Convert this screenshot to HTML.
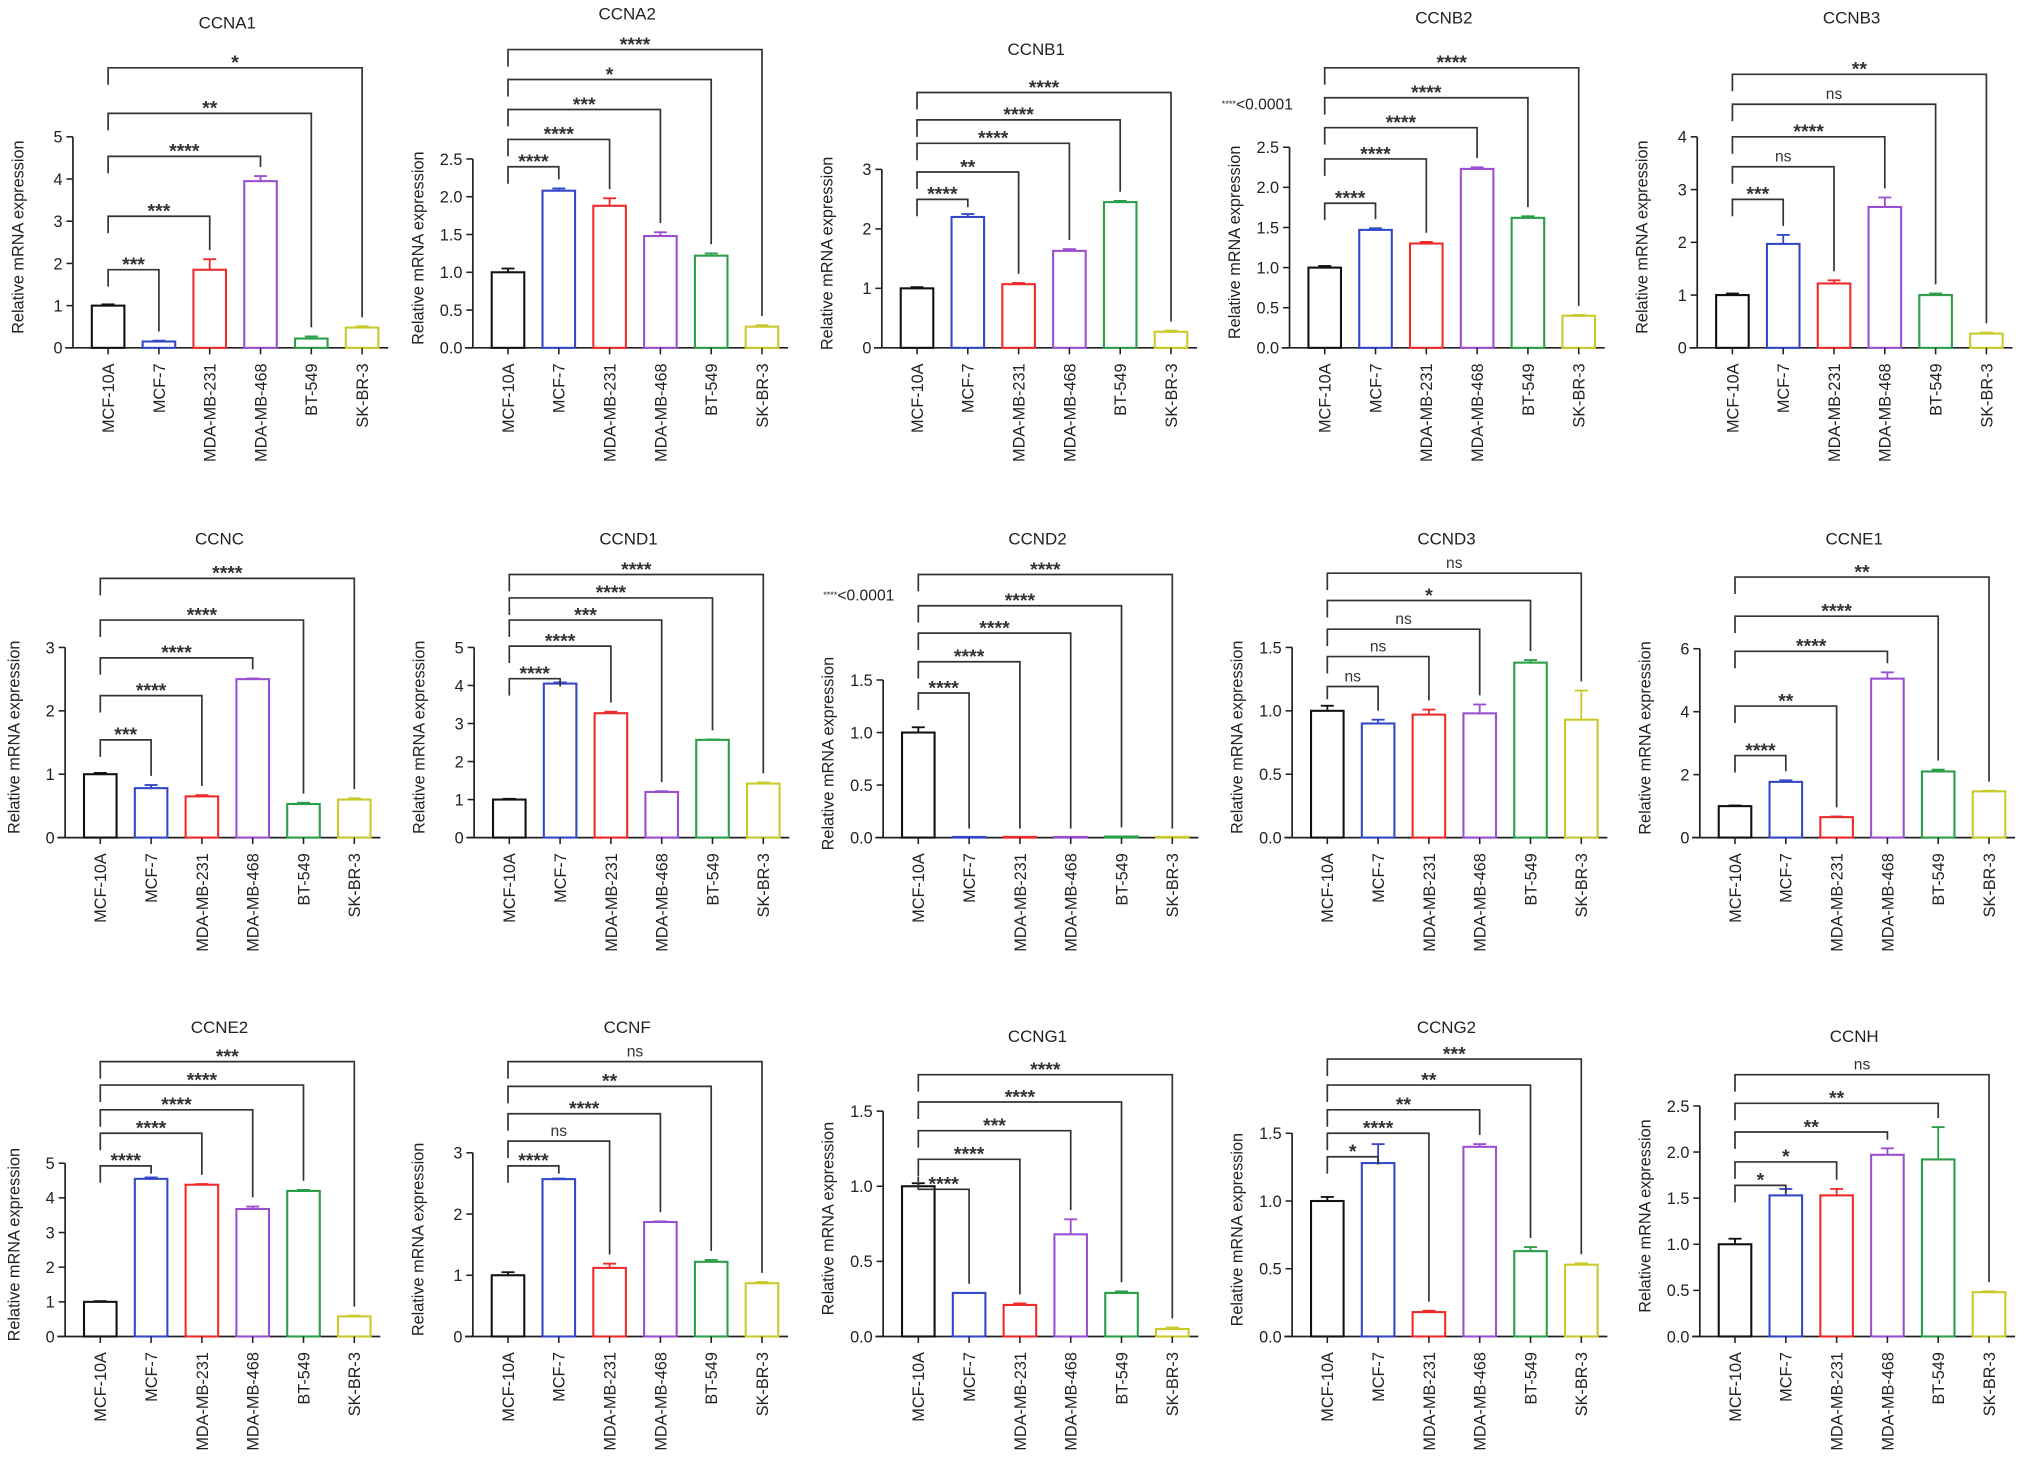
<!DOCTYPE html>
<html><head><meta charset="utf-8"><style>
html,body{margin:0;padding:0;background:#fff;}
svg{display:block;font-family:"Liberation Sans",Arial,sans-serif;}
</style></head><body>
<svg id="fig" width="2032" height="1472" viewBox="0 0 1560 1130" xmlns="http://www.w3.org/2000/svg"></svg>
<script>
const categories = ["MCF-10A","MCF-7","MDA-MB-231","MDA-MB-468","BT-549","SK-BR-3"];
const colors = ["#111111","#3347c8","#f02a2a","#9a4fd0","#2a9e48","#c9c92a"];
const titles = ["CCNA1","CCNA2","CCNB1","CCNB2","CCNB3","CCNC","CCND1","CCND2","CCND3","CCNE1","CCNE2","CCNF","CCNG1","CCNG2","CCNH"];
const values = [
 [1,0.15,1.85,3.95,0.22,0.48],
 [1,2.08,1.88,1.48,1.22,0.28],
 [1,2.2,1.07,1.63,2.45,0.27],
 [1,1.47,1.3,2.23,1.62,0.4],
 [1,1.97,1.22,2.67,1.0,0.27],
 [1,0.78,0.65,2.5,0.53,0.6],
 [1,4.05,3.27,1.2,2.57,1.42],
 [1,0,0,0,0.01,0],
 [1,0.9,0.97,0.98,1.38,0.93],
 [1,1.77,0.65,5.05,2.1,1.47],
 [1,4.55,4.38,3.68,4.2,0.58],
 [1,2.57,1.12,1.87,1.22,0.87],
 [1,0.29,0.21,0.68,0.29,0.05],
 [1,1.28,0.18,1.4,0.63,0.53],
 [1,1.53,1.53,1.97,1.92,0.48]
];
const errors = [
 [.03,.02,.25,.12,.05,.03],
 [.05,.03,.1,.05,.03,.02],
 [.02,.05,.02,.03,.02,.02],
 [.02,.02,.02,.02,.02,.01],
 [.03,.17,.06,.18,.03,.02],
 [.02,.05,.02,.01,.02,.02],
 [.02,.03,.04,.02,.01,.03],
 [.05,0,0,0,0,0],
 [.04,.03,.04,.07,.02,.23],
 [.02,.05,.02,.2,.06,.02],
 [.02,.04,.02,.07,.03,.02],
 [.05,.01,.07,.01,.03,.02],
 [.02,0,.01,.1,.01,.01],
 [.03,.14,.01,.02,.03,.01],
 [.06,.07,.07,.07,.35,.01]
];
const sigLabels = [
 ["***","***","****","**","*"],
 ["****","****","***","*","****"],
 ["****","**","****","****","****"],
 ["****","****","****","****","****"],
 ["***","ns","****","ns","**"],
 ["***","****","****","****","****"],
 ["****","****","***","****","****"],
 ["****","****","****","****","****"],
 ["ns","ns","ns","*","ns"],
 ["****","**","****","****","**"],
 ["****","****","****","****","***"],
 ["****","ns","****","**","ns"],
 ["****","****","***","****","****"],
 ["*","****","**","**","***"],
 ["*","*","**","**","ns"]
];
const yMax = [5,2.5,3,2.5,4, 3,5,1.5,1.5,6, 5,3,1.5,1.5,2.5];
const yStep = [1,0.5,1,0.5,1, 1,1,0.5,0.5,2, 1,1,0.5,0.5,0.5];
const yDecimals = [0,1,0,1,0, 0,0,1,1,0, 0,0,1,1,1];

// layout (display units)
const layout = [
 {ax:56,base:267,top:105,ty:22,br:[207,166,120,87,52]},
 {ax:363,base:267,top:122,ty:15,br:[128,107,84,61,38]},
 {ax:677,base:267,top:130,ty:42,br:[153,132,110,92,71]},
 {ax:990,base:267,top:113,ty:18,br:[156,122,98,75,52],note:[938,84]},
 {ax:1303,base:267,top:105,ty:18,br:[153,128,105,80,57]},
 {ax:50,base:643,top:497,ty:418,br:[568,534,505,476,444]},
 {ax:364,base:643,top:497,ty:418,br:[521,496,476,459,441]},
 {ax:678,base:643,top:522,ty:418,br:[532,508,486,465,441],note:[632,461]},
 {ax:992,base:643,top:497,ty:418,br:[527,504,483,461,440]},
 {ax:1305,base:643,top:498,ty:418,br:[580,542,500,473,443]},
 {ax:50,base:1026,top:893,ty:793,br:[895,870,852,833,815]},
 {ax:363,base:1026,top:885,ty:793,br:[895,876,855,834,815]},
 {ax:678,base:1026,top:853,ty:800,br:[913,890,868,846,825]},
 {ax:992,base:1026,top:870,ty:793,br:[888,870,852,833,813]},
 {ax:1305,base:1026,top:849,ty:800,br:[910,892,869,847,825]}
];
const NS="http://www.w3.org/2000/svg";
const svg=document.getElementById('fig');
function mk(tag,attrs,parent){const e=document.createElementNS(NS,tag);for(const k in attrs)e.setAttribute(k,attrs[k]);(parent||svg).appendChild(e);return e;}

titles.forEach((t,p)=>{
 const L=layout[p];
 const g=mk('g',{});
 
 
 const yScale=v=>L.base-(v/yMax[p])*(L.base-L.top);
 const xScale=i=>L.ax+27+i*39;
 const bw=25;
 const ya=mk('line',{x1:L.ax,y1:L.base,x2:L.ax,y2:L.top,stroke:'#222','stroke-width':1.3},g);
 
 
 const xa=mk('line',{x1:L.ax-6,y1:L.base,x2:xScale(5)+20,y2:L.base,stroke:'#222','stroke-width':1.3},g);
 
 
 for(let v=0;v<=yMax[p]+1e-9;v+=yStep[p]){
  const y=yScale(v);
  mk('line',{x1:L.ax-5,y1:y,x2:L.ax,y2:y,stroke:'#222','stroke-width':1.2},g);
  const tl=mk('text',{x:L.ax-8,y:y+4.5,'font-size':12.5,'text-anchor':'end',fill:'#222'},g);
  tl.textContent=v.toFixed(yDecimals[p]);
  
  
 }
 const ytx=Math.max(L.ax-38,15);
 const yt=mk('text',{x:0,y:0,'font-size':12.5,'text-anchor':'middle',fill:'#222',transform:`translate(${ytx},${(L.base+L.top)/2-4}) rotate(-90)`},g);
 yt.textContent='Relative mRNA expression';
 
 
 const tt=mk('text',{x:(xScale(0)+xScale(5))/2-6,y:L.ty,'font-size':13,'text-anchor':'middle',fill:'#222'},g);
 tt.textContent=t;
 
 
 const tops=[];
 categories.forEach((c,i)=>{
  const x=xScale(i), v=values[p][i], e=errors[p][i];
  const yv=yScale(v), ye=yScale(v+e);
  tops.push(ye);
  const bar=mk('rect',{x:x-bw/2,y:Math.min(yv,L.base-0.5),width:bw,height:Math.max(L.base-yv,0.5),fill:'none',stroke:colors[i],'stroke-width':1.6},g);
  
  
  if(e>0){
   mk('line',{x1:x,y1:yv,x2:x,y2:ye,stroke:colors[i],'stroke-width':1.4},g);
   mk('line',{x1:x-5,y1:ye,x2:x+5,y2:ye,stroke:colors[i],'stroke-width':1.4},g);
  }
  mk('line',{x1:x,y1:L.base,x2:x,y2:L.base+5,stroke:'#222','stroke-width':1.2},g);
  const xl=mk('text',{x:0,y:0,'font-size':12.5,'text-anchor':'end',fill:'#222',transform:`translate(${x+4.5},${L.base+12}) rotate(-90)`},g);
  xl.textContent=c;
  
  
 });
 sigLabels[p].forEach((s,k)=>{
  const i=k+1, x0=xScale(0), x1=xScale(i), yb=L.br[k];
  const leftEnd=Math.min(yb+13, tops[0]-5);
  const rightEnd=Math.max(yb+6, tops[i]-7);
  const br=mk('path',{d:`M${x0},${leftEnd} L${x0},${yb} L${x1},${yb} L${x1},${rightEnd}`,fill:'none',stroke:'#333','stroke-width':1.3},g);
  
  
  const st=mk('text',{x:(x0+x1)/2,y:s==='ns'?yb-4:yb+1,'font-size':s==='ns'?12:15,'font-weight':s==='ns'?'normal':'bold','text-anchor':'middle',fill:'#333'},g);
  st.textContent=s;
  
  
 });
 if(L.note){
  const n=mk('text',{x:L.note[0],y:L.note[1],'font-size':12,fill:'#222'},g);
  n.innerHTML='<tspan font-size="7" dy="-2">****</tspan><tspan dy="2">&lt;0.0001</tspan>';
  
  
 }
});
</script>
</body></html>
